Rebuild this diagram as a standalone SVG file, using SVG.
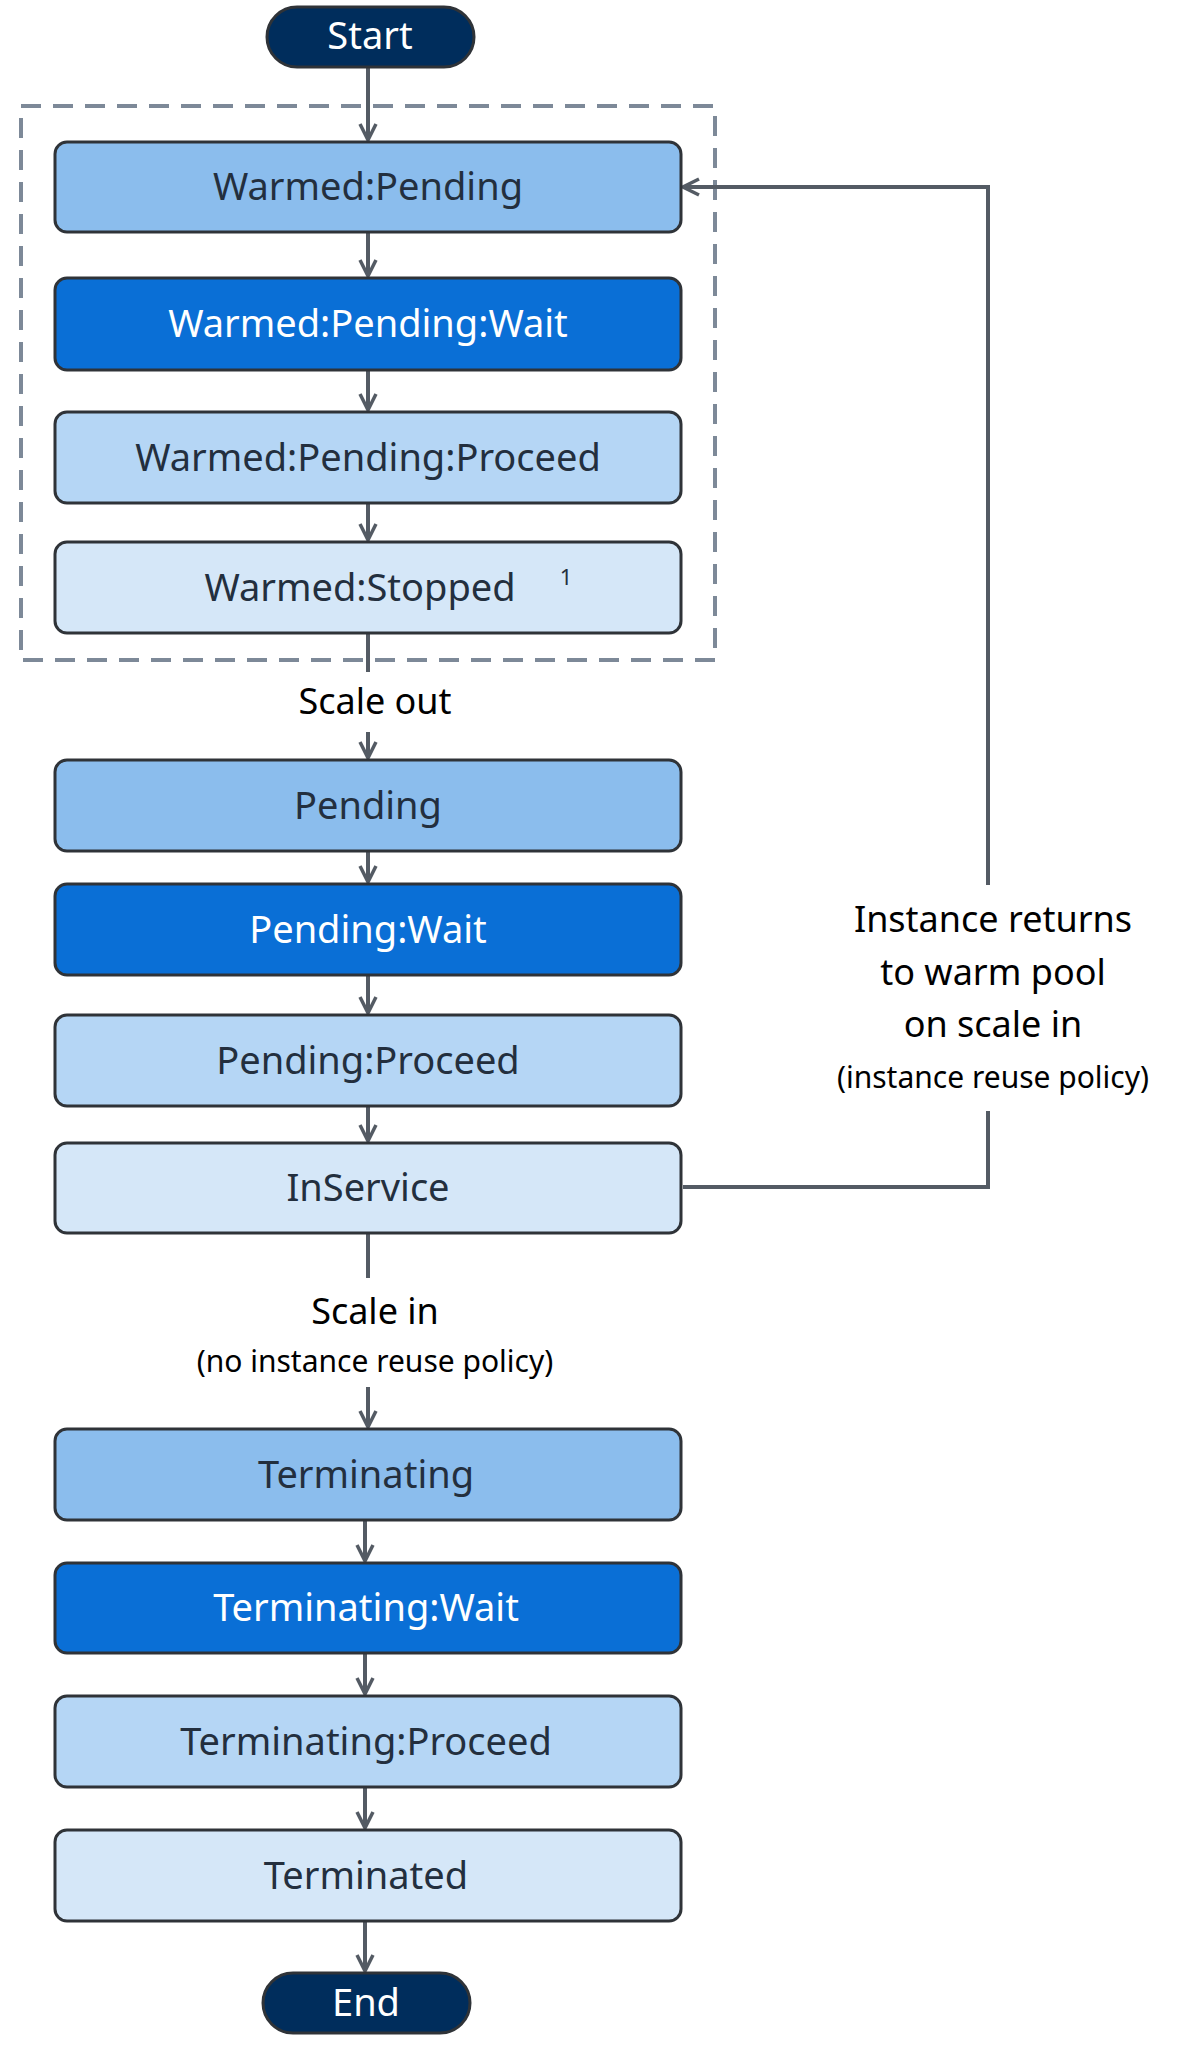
<svg xmlns="http://www.w3.org/2000/svg" width="1200" height="2049" viewBox="0 0 1200 2049">
<style>
.b{stroke:#2f3338;stroke-width:3}
.c1{fill:#8bbded}.c2{fill:#0a6fd6}.c3{fill:#b5d6f5}.c4{fill:#d5e7f8}.p{fill:#002d5c}
.t{font-family:"Noto Sans","Open Sans",sans-serif;font-size:38px;text-anchor:middle;fill:#232f3e}
.w{fill:#fff}
.l{font-family:"Noto Sans","Open Sans",sans-serif;text-anchor:middle;fill:#000}
.k{fill:none;stroke:#545b64;stroke-width:4}
</style>
<defs><marker id="a" viewBox="0 0 20 20" refX="18" refY="10" markerWidth="20" markerHeight="20" markerUnits="userSpaceOnUse" orient="auto"><path d="M2,2 L18,10 L2,18" fill="none" stroke="#545b64" stroke-width="3.5"/></marker></defs>
<rect x="21" y="106" width="694" height="554" fill="none" stroke="#7d8998" stroke-width="4" stroke-dasharray="20 12"/>
<g id="connectors" class="k">
<path d="M368 68V140" marker-end="url(#a)"/>
<path d="M368 232V276" marker-end="url(#a)"/>
<path d="M368 370V410" marker-end="url(#a)"/>
<path d="M368 503V540" marker-end="url(#a)"/>
<path d="M368 633V672"/>
<path d="M368 732V758" marker-end="url(#a)"/>
<path d="M368 851V882" marker-end="url(#a)"/>
<path d="M368 975V1013" marker-end="url(#a)"/>
<path d="M368 1106V1141" marker-end="url(#a)"/>
<path d="M368 1233V1278"/>
<path d="M368 1387V1427" marker-end="url(#a)"/>
<path d="M365 1520V1561" marker-end="url(#a)"/>
<path d="M365 1653V1694" marker-end="url(#a)"/>
<path d="M365 1787V1828" marker-end="url(#a)"/>
<path d="M365 1921V1971" marker-end="url(#a)"/>
<path d="M683 1187H988V1111"/>
<path d="M988 885V187H683" marker-end="url(#a)"/>
</g>
<g id="start"><rect x="267" y="7" width="207" height="60" rx="30" class="p b"/><text x="370" y="49" class="t w">Start</text></g>
<g id="wp"><rect x="55" y="142" width="626" height="90" rx="12" class="c1 b"/><text x="368" y="200" class="t">Warmed:Pending</text></g>
<g id="wpw"><rect x="55" y="278" width="626" height="92" rx="12" class="c2 b"/><text x="368" y="337" class="t w">Warmed:Pending:Wait</text></g>
<g id="wpp"><rect x="55" y="412" width="626" height="91" rx="12" class="c3 b"/><text x="368" y="471" class="t">Warmed:Pending:Proceed</text></g>
<g id="ws"><rect x="55" y="542" width="626" height="91" rx="12" class="c4 b"/><text x="360" y="601" class="t">Warmed:Stopped</text><text x="566" y="585" class="t" style="font-size:22px">1</text></g>
<text x="375" y="714" class="l" font-size="36">Scale out</text>
<g id="p"><rect x="55" y="760" width="626" height="91" rx="12" class="c1 b"/><text x="368" y="819" class="t">Pending</text></g>
<g id="pw"><rect x="55" y="884" width="626" height="91" rx="12" class="c2 b"/><text x="368" y="943" class="t w">Pending:Wait</text></g>
<g id="pp"><rect x="55" y="1015" width="626" height="91" rx="12" class="c3 b"/><text x="368" y="1074" class="t">Pending:Proceed</text></g>
<g id="is"><rect x="55" y="1143" width="626" height="90" rx="12" class="c4 b"/><text x="368" y="1201" class="t">InService</text></g>
<text class="l" font-size="36"><tspan x="993" y="932">Instance returns</tspan><tspan x="993" y="985">to warm pool</tspan><tspan x="993" y="1037">on scale in</tspan></text>
<text x="993" y="1088" class="l" font-size="30">(instance reuse policy)</text>
<text x="375" y="1324" class="l" font-size="36">Scale in</text>
<text x="375" y="1372" class="l" font-size="30">(no instance reuse policy)</text>
<g id="t"><rect x="55" y="1429" width="626" height="91" rx="12" class="c1 b"/><text x="366" y="1488" class="t">Terminating</text></g>
<g id="tw"><rect x="55" y="1563" width="626" height="90" rx="12" class="c2 b"/><text x="366" y="1621" class="t w">Terminating:Wait</text></g>
<g id="tp"><rect x="55" y="1696" width="626" height="91" rx="12" class="c3 b"/><text x="366" y="1755" class="t">Terminating:Proceed</text></g>
<g id="td"><rect x="55" y="1830" width="626" height="91" rx="12" class="c4 b"/><text x="366" y="1889" class="t">Terminated</text></g>
<g id="end"><rect x="263" y="1973" width="207" height="60" rx="30" class="p b"/><text x="366" y="2016" class="t w">End</text></g>
</svg>
